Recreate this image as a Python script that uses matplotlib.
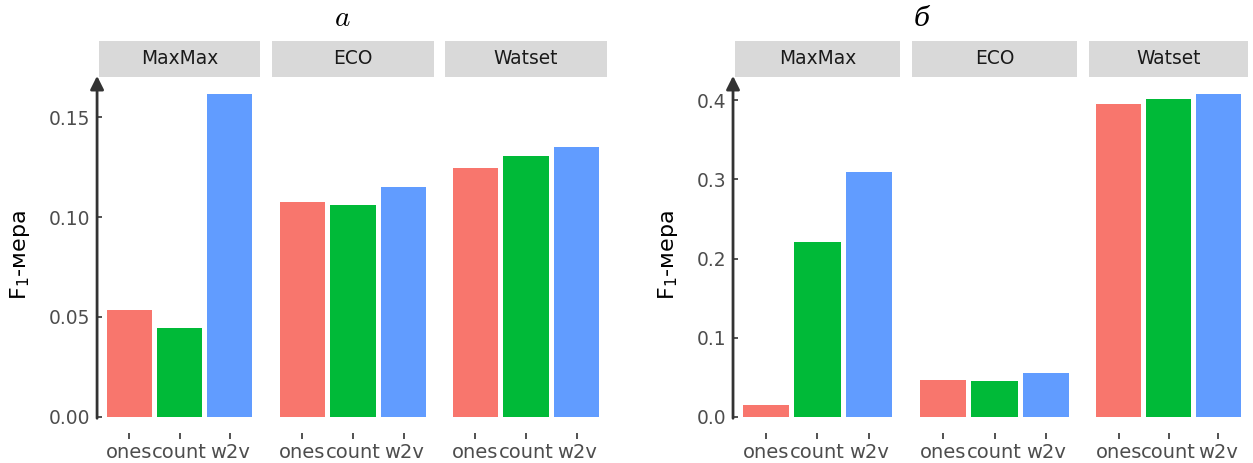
import numpy as np
import matplotlib.pyplot as plt

methods = ["MaxMax", "ECO", "Watset"]
weights = ["ones", "count", "w2v"]
colors = ["#F8766D", "#00BA38", "#619CFF"]

# panel a
f1_a = {
    "MaxMax": [0.0535, 0.0445, 0.1615],
    "ECO": [0.1075, 0.1060, 0.1150],
    "Watset": [0.1245, 0.1305, 0.1350],
}
ticks_a = [0.00, 0.05, 0.10, 0.15]
ticklabels_a = ["0.00", "0.05", "0.10", "0.15"]

# panel b
f1_b = {
    "MaxMax": [0.0151, 0.2208, 0.3090],
    "ECO": [0.0467, 0.0454, 0.0555],
    "Watset": [0.3950, 0.4010, 0.4076],
}
ticks_b = [0.0, 0.1, 0.2, 0.3, 0.4]
ticklabels_b = ["0.0", "0.1", "0.2", "0.3", "0.4"]

W, H = 1253, 463
fig = plt.figure(figsize=(W / 100, H / 100), dpi=100)


def box(x0, y0, x1, y1):
    return [x0 / W, 1 - y1 / H, (x1 - x0) / W, (y1 - y0) / H]


def draw_group(panels, data, ticks, ticklabels, title, title_x, ylabel_x, italic_math):
    ymax = max(max(v) for v in data.values())
    lo, hi = -0.05 * ymax, 1.05 * ymax
    for i, (m, (x0, x1)) in enumerate(zip(methods, panels)):
        ax = fig.add_axes(box(x0, 78, x1, 433))
        x = np.arange(1, 4)
        ax.bar(x, data[m], width=0.9, color=colors)
        ax.set_xlim(0.4, 3.6)
        ax.set_ylim(lo, hi)
        for s in ax.spines.values():
            s.set_visible(False)
        ax.set_xticks(x)
        ax.set_xticklabels(weights, fontsize=14, color="#4d4d4d")
        ax.tick_params(axis="x", length=4, width=1.2, color="#333333", pad=3)
        if i == 0:
            ax.set_yticks(ticks)
            ax.set_yticklabels(ticklabels, fontsize=13.4, color="#4d4d4d")
            ax.tick_params(axis="y", length=5, width=1.2, color="#333333", pad=4,
                           direction="inout")
            ax.annotate("", xy=(-0.012, hi + 0.006 * (hi - lo)), xytext=(-0.012, -0.004 * (hi - lo)),
                        xycoords=ax.get_yaxis_transform(),
                        arrowprops=dict(arrowstyle="-|>", lw=2, color="#333333",
                                        mutation_scale=20, shrinkA=0, shrinkB=0),
                        annotation_clip=False)
        else:
            ax.set_yticks([])
        # strip
        sax = fig.add_axes(box(x0, 41, x1, 77))
        sax.set_facecolor("#d9d9d9")
        sax.set_xticks([])
        sax.set_yticks([])
        for s in sax.spines.values():
            s.set_visible(False)
        sax.text(0.5, 0.5, m, ha="center", va="center", fontsize=13.4, color="#1a1a1a",
                 transform=sax.transAxes)
    fig.text(ylabel_x / W, 1 - 255 / H, "F$_1$-мера", rotation=90, ha="center",
             va="center", fontsize=16, color="black")
    if italic_math:
        fig.text(title_x / W, 1 - 18 / H, "$a$", ha="center", va="center", fontsize=21,
                 math_fontfamily="cm")
    else:
        fig.text(title_x / W, 1 - 18 / H, title, ha="center", va="center", fontsize=19,
                 family="DejaVu Serif", style="italic")


draw_group([(99, 260), (272, 434), (445, 607)], f1_a, ticks_a, ticklabels_a,
           "a", 342, 20, True)
draw_group([(735, 900), (912, 1077), (1089, 1248)], f1_b, ticks_b, ticklabels_b,
           "б", 922, 668, False)

fig.savefig("out.png", dpi=100)
